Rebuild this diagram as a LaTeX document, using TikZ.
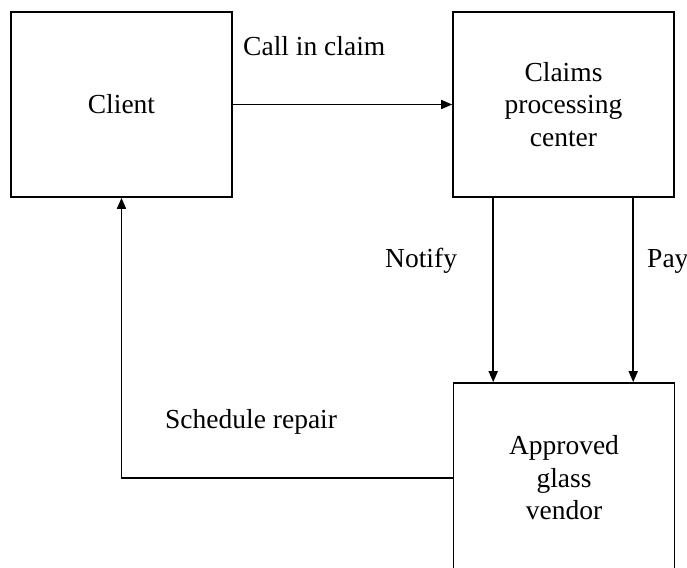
\documentclass[tikz,border=0pt]{standalone}
\usepackage{fontspec}
\setmainfont{Liberation Serif}
\usetikzlibrary{arrows.meta}
\tikzset{
  box/.style={draw, line width=1.6pt, rectangle, inner sep=0pt, minimum width=221pt, align=center, font=\fontsize{27.5}{32.5}\selectfont},
  arr/.style={line width=1.6pt, -{Triangle[length=11pt,width=9pt]}},
  lbl/.style={anchor=base west, inner sep=0pt, font=\fontsize{27.5}{32.5}\selectfont}
}
\begin{document}
\begin{tikzpicture}[x=1pt,y=-1pt]
\useasboundingbox (0,0) rectangle (687,567);
\clip (0,0) rectangle (687,567);
\fill[white] (0,0) rectangle (687,567);
\node[box, minimum height=185pt] (client) at (121.5,104.5) {Client};
\node[box, minimum height=185pt] (claims) at (563.5,104.5) {Claims\\processing\\center};
\node[box, minimum height=190pt] (vendor) at (564,478) {Approved\\glass\\vendor};
\draw[arr] (client.east) -- (claims.west);
\draw[arr] ([xshift=41pt]claims.south west) -- ([xshift=40.5pt]vendor.north west);
\draw[arr] ([xshift=181pt]claims.south west) -- ([xshift=180.5pt]vendor.north west);
\draw[arr] (vendor.west) -| (client.south);
\node[lbl] (l1) at (243,56) {Call in claim};
\node[lbl] (l2) at (385,267) {Notify};
\node[lbl] (l3) at (647,267) {Pay};
\node[lbl] (l4) at (165,428) {Schedule repair};
\end{tikzpicture}
\end{document}
